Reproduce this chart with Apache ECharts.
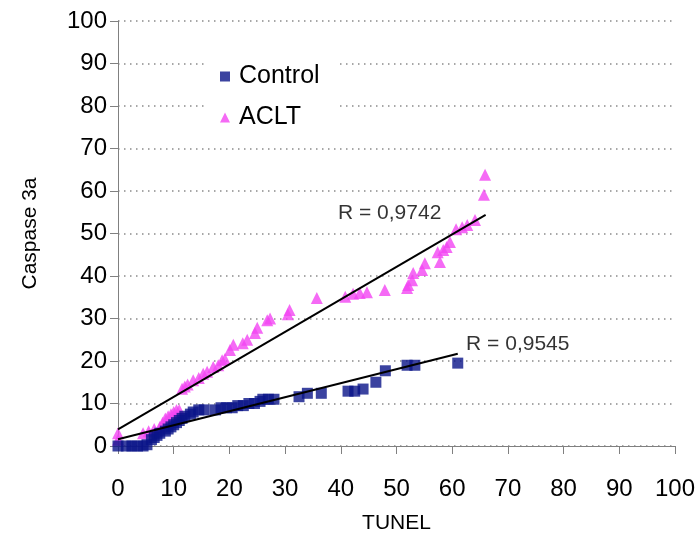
<!DOCTYPE html>
<html><head><meta charset="utf-8">
<script src="https://cdn.jsdelivr.net/npm/echarts@6/dist/echarts.min.js"></script>
<style>html,body{margin:0;padding:0;background:#fff}#c{width:698px;height:541px}</style>
</head><body><div id="c"></div>
<script>
const seriesNames = ['Control', 'ACLT'];
const controlData = [
  [0,0],[1.5,0],[2.5,0],[3.5,0],[4.5,0],[5.2,0.3],
  [6,1.5],[6.5,2],[7,2.5],[7.5,3],[8.5,3.5],[9,4],[9.5,4.5],[10,5],[10.5,5.5],[11,6],[11.5,6.5],[12,7],[13,7.5],[13.5,8],[14.5,8.5],[15.5,8.5],
  [17.5,8.5],[18.5,9],[19.5,9],[20.5,9],[21.5,9.5],[22.5,9.5],[23.5,10],[24.5,10],[25.5,10.5],[26,11],[27,11],[28,11],
  [32.5,11.6],[34,12.4],[36.5,12.4],[41.3,12.9],[42.5,12.9],[44,13.4],[46.3,15],[48,17.7],[51.9,19],[53.3,19],[61,19.5]
];
const acltData = [
  [0,1.5],[0,3],[4.5,3],[5.5,3.5],[6.5,4],[7.5,4.5],[8,5.5],[8.5,6.5],[9,7],[9.5,7.5],[10,8],[10.5,8.5],[11,8.5],
  [11.5,13.5],[12,14],[12.5,14.5],[13.5,15.5],[14.5,16],[15.3,17],[16,17.5],[17.1,18.6],[18,19],[18.7,20.2],[19.2,20.5],
  [20.1,22.6],[20.7,23.8],[22.4,24.2],[23.2,25],[24.6,26.6],[25,27.8],[26.8,29.6],[27.3,30],[30.5,31],[30.8,32],
  [35.7,34.8],[40.8,35.1],[42.2,35.8],[43.4,36],[44.7,36.2],[47.9,36.7],[51.9,37.2],[52.1,37.9],[52.8,39],[53,40.7],
  [54.6,41.4],[55.1,43],[57.4,45.6],[57.8,43.3],[58.4,46.1],[59,46.8],[59.6,48],[60.7,51],[61.8,51.5],[62.7,52],
  [64.1,53.2],[65.7,59.1],[65.9,63.8]
];
const controlTrend = [[0,1.6],[61,21.7]];
const acltTrend = [[0,3.9],[66,54.4]];
const rLabels = ['R = 0,9545', 'R = 0,9742'];
const controlRPos = [62.5, 24];
const acltRPos = [39.5, 54.8];
const xTicks = [0,10,20,30,40,50,60,70,80,90,100];
const yTicks = [0,10,20,30,40,50,60,70,80,90,100];
const xName = 'TUNEL';
const yName = 'Caspase 3a';

const FONT = '"Liberation Sans", Arial, sans-serif';
const chart = echarts.init(document.getElementById('c'), null, {renderer: 'canvas'});
const axisCommon = {
  min: xTicks[0], max: xTicks[xTicks.length-1], interval: xTicks[1]-xTicks[0],
  axisLine: {show: true, onZero: false, lineStyle: {color: '#808080', width: 1}},
  axisTick: {show: true, inside: false, length: 8, lineStyle: {color: '#808080'}},
  axisLabel: {color: '#000', fontSize: 24, fontFamily: FONT},
  nameLocation: 'middle',
  nameTextStyle: {color: '#000', fontSize: 21, fontFamily: FONT}
};
chart.setOption({
  animation: false,
  backgroundColor: '#fff',
  grid: {left: 118, right: 23, top: 21, bottom: 95, containLabel: false},
  xAxis: Object.assign({}, axisCommon, {
    type: 'value', name: xName, nameGap: 67,
    splitLine: {show: false},
    axisLabel: Object.assign({}, axisCommon.axisLabel, {margin: 31})
  }),
  yAxis: Object.assign({}, axisCommon, {
    type: 'value', name: yName, nameGap: 77,
    min: yTicks[0], max: yTicks[yTicks.length-1], interval: yTicks[1]-yTicks[0],
    splitLine: {show: true, lineStyle: {color: '#8a8a8a', width: 1.5, type: [1.5, 4.5]}},
    axisLabel: Object.assign({}, axisCommon.axisLabel, {margin: 11})
  }),
  legend: {
    left: 204, top: 46, orient: 'vertical',
    backgroundColor: '#fff',
    padding: [18, 18, 10, 16],
    itemGap: 16, itemWidth: 10, itemHeight: 10,
    textStyle: {fontSize: 25, fontFamily: FONT, color: '#000', lineHeight: 25, padding: [0,0,0,4]},
    data: [{name: seriesNames[0], icon: 'rect'}, {name: seriesNames[1], icon: 'triangle'}]
  },
  series: [
    {name: seriesNames[1], type: 'scatter', symbol: 'triangle', symbolSize: 12, data: acltData,
     itemStyle: {color: '#f345f3'}, z: 2},
    {name: seriesNames[0], type: 'scatter', symbol: 'rect', symbolSize: 11, data: controlData,
     itemStyle: {color: '#0a1488'}, z: 3},
    {name: 'trendACLT', type: 'line', data: acltTrend, symbol: 'none', lineStyle: {color: '#000', width: 2}, z: 4, silent: true},
    {name: 'trendControl', type: 'line', data: controlTrend, symbol: 'none', lineStyle: {color: '#000', width: 2}, z: 4, silent: true},
    {name: 'rtext', type: 'scatter', symbolSize: 0, silent: true, z: 5,
     data: [{value: acltRPos, label: {formatter: rLabels[1]}}, {value: controlRPos, label: {formatter: rLabels[0]}}],
     label: {show: true, position: 'right', distance: 0, color: '#000', fontSize: 21, fontFamily: FONT}}
  ]
});
</script></body></html>
